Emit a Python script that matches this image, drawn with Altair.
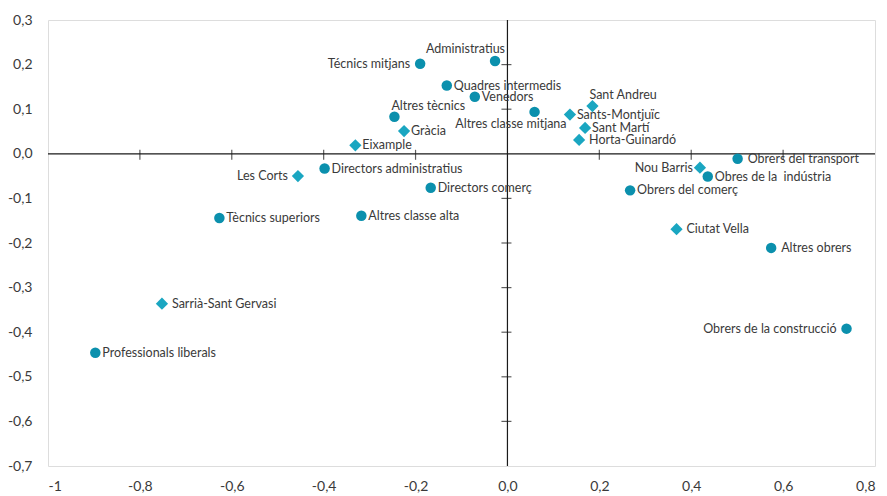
import altair as alt
import pandas as pd

# ---- data ----
names = [
    "Técnics mitjans", "Administratius", "Quadres intermedis", "Venedors",
    "Altres classe mitjana", "Altres tècnics", "Directors administratius",
    "Directors comerç", "Altres classe alta", "Tècnics superiors",
    "Professionals liberals", "Obrers del transport", "Obres de la\u00a0 indústria",
    "Obrers del comerç", "Altres obrers", "Obrers de la construcció",
    "Gràcia", "Eixample", "Les Corts", "Sarrià-Sant Gervasi", "Sant Andreu",
    "Sants-Montjuïc", "Sant Martí", "Horta-Guinardó", "Nou Barris", "Ciutat Vella",
]
x_vals = [
    -0.19, -0.027, -0.132, -0.071, 0.059, -0.246, -0.398, -0.167, -0.318, -0.627,
    -0.897, 0.501, 0.436, 0.267, 0.574, 0.738,
    -0.225, -0.331, -0.456, -0.752, 0.185, 0.136, 0.169, 0.156, 0.419, 0.368,
]
y_vals = [
    0.202, 0.208, 0.153, 0.128, 0.094, 0.083, -0.033, -0.076, -0.139, -0.144,
    -0.446, -0.011, -0.051, -0.082, -0.211, -0.392,
    0.051, 0.019, -0.050, -0.336, 0.107, 0.088, 0.058, 0.031, -0.031, -0.169,
]
kinds = ["ocupació"] * 16 + ["districte"] * 10
label_pos = [
    "l", "ar", "r", "r", "b", "al", "r", "r", "r", "r",
    "r", "r2", "r", "r", "r2", "l",
    "r", "r", "l", "r2", "al", "r", "r", "r2", "l2", "r2",
]
x_ticks = [-1, -0.8, -0.6, -0.4, -0.2, 0, 0.2, 0.4, 0.6, 0.8]
y_ticks = [0.3, 0.2, 0.1, 0, -0.1, -0.2, -0.3, -0.4, -0.5, -0.6, -0.7]
x_cross_ticks = [-0.8, -0.6, -0.4, -0.2, 0.2, 0.4, 0.6]
y_cross_ticks = [0.2, 0.1, -0.1, -0.2, -0.3, -0.4, -0.5, -0.6]

df = pd.DataFrame({"name": names, "x": x_vals, "y": y_vals,
                   "kind": kinds, "pos": label_pos})

FONT = "Lato"
TEXT = "#3a3a3a"
label_expr = ("datum.value == -1 ? '-1' : (datum.value < 0 ? '-' : '') + "
              "replace(format(abs(datum.value), '.1f'), '.', ',')")

xs = alt.Scale(domain=[-1, 0.8], nice=False, zero=False)
ys = alt.Scale(domain=[-0.7, 0.3], nice=False, zero=False)

X = alt.X("x:Q", scale=xs, axis=alt.Axis(values=x_ticks, labelExpr=label_expr, title=None,
                                         domain=False, ticks=False, grid=False,
                                         labelPadding=13, labelFontSize=14,
                                         labelFont=FONT, labelColor=TEXT))
Y = alt.Y("y:Q", scale=ys, axis=alt.Axis(values=y_ticks, labelExpr=label_expr, title=None,
                                         domain=False, ticks=False, grid=False,
                                         labelPadding=16, labelFontSize=14,
                                         labelFont=FONT, labelColor=TEXT))

base = alt.Chart(df)

# zero lines and their ticks
vline = alt.Chart(pd.DataFrame({"x": [0]})).mark_rule(color="#1a1a1a", strokeWidth=1.2).encode(
    x=alt.X("x:Q", scale=xs))
hline = alt.Chart(pd.DataFrame({"y": [0]})).mark_rule(color="#1a1a1a", strokeWidth=1.2).encode(
    y=alt.Y("y:Q", scale=ys))
xt = alt.Chart(pd.DataFrame({"x": x_cross_ticks, "y": [0] * len(x_cross_ticks)})).mark_tick(
    orient="vertical", size=10, thickness=1.2, color="#1a1a1a", yOffset=1).encode(
    x=alt.X("x:Q", scale=xs), y=alt.Y("y:Q", scale=ys))
yt = alt.Chart(pd.DataFrame({"y": y_cross_ticks, "x": [0] * len(y_cross_ticks)})).mark_tick(
    orient="horizontal", size=10, thickness=1.2, color="#1a1a1a", xOffset=-1).encode(
    x=alt.X("x:Q", scale=xs), y=alt.Y("y:Q", scale=ys))

circles = base.transform_filter(alt.datum.kind == "ocupació").mark_point(
    shape="circle", filled=True, opacity=1, size=110, color="#0b90ad").encode(x=X, y=Y)
diamonds = base.transform_filter(alt.datum.kind == "districte").mark_point(
    shape="diamond", filled=True, opacity=1, size=150, color="#1aa6c1").encode(x=X, y=Y)

label_styles = {
    "r": dict(align="left", dx=7, dy=0),
    "r2": dict(align="left", dx=10, dy=0),
    "l": dict(align="right", dx=-10, dy=0),
    "l2": dict(align="right", dx=-7, dy=0),
    "ar": dict(align="right", dx=10, dy=-12),
    "al": dict(align="left", dx=-3, dy=-11),
    "b": dict(align="right", dx=32, dy=12),
}
texts = []
for key, st in label_styles.items():
    texts.append(
        base.transform_filter(alt.datum.pos == key).mark_text(
            font=FONT, fontSize=12.5, color=TEXT, baseline="middle", **st
        ).encode(x=alt.X("x:Q", scale=xs), y=alt.Y("y:Q", scale=ys), text="name:N")
    )

chart = alt.layer(vline, hline, xt, yt, *texts, circles, diamonds).properties(
    width=827, height=446,
    autosize=alt.AutoSizeParams(type="none"),
    padding={"left": 40, "top": 12, "right": 4, "bottom": 29},
).configure_view(stroke="#707070", strokeWidth=1.5).configure(background="white")

chart.save("out.html", embed_options={"renderer": "svg", "actions": False})
